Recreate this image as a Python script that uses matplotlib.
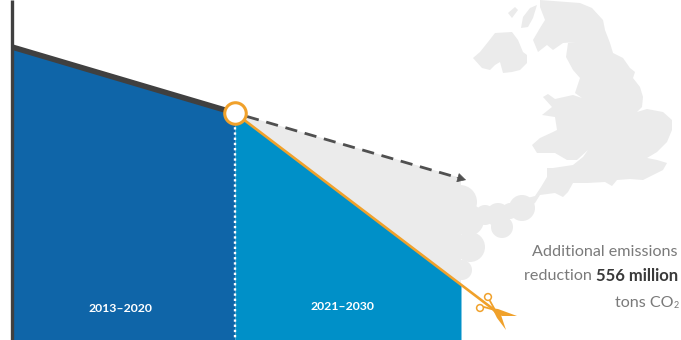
import matplotlib
matplotlib.use("Agg")
import matplotlib.pyplot as plt
from matplotlib.patches import Polygon, Circle

# reduction path, on the drawing's own x/y scale (y grows downwards)
path_x = [12, 235, 461]
path_y = [47, 113, 285]
trend_x = [235, 466]
trend_y = [113, 180]
periods = ["2013–2020", "2021–2030"]

# coastlines of Great Britain and Northern Ireland
britain = [
    (540, 0), (580, 3), (592, 8), (603, 20), (605, 30), (610, 43), (613, 53), (623, 58),
    (630, 68), (635, 72), (633, 78), (640, 87), (643, 97), (642, 107), (637, 112), (647, 109),
    (663, 112), (672, 120), (672, 130), (667, 142), (657, 152), (647, 158), (657, 160),
    (667, 163), (663, 170), (653, 175), (643, 180), (630, 179), (617, 180), (612, 186),
    (605, 182), (587, 183), (573, 183), (568, 192), (563, 197), (555, 193), (540, 195),
    (535, 203), (527, 208), (520, 200), (535, 196), (541, 187), (547, 177), (547, 168),
    (553, 168), (573, 165), (583, 157), (588, 150), (577, 160), (567, 160),
    (555, 153), (537, 153), (532, 145), (540, 138), (553, 132), (557, 130), (555, 117),
    (542, 115), (552, 107), (543, 97), (548, 94), (555, 99), (573, 95), (582, 98), (575, 93),
    (580, 78), (573, 70), (566, 57), (568, 43), (576, 42), (563, 43), (553, 50), (547, 45),
    (538, 52), (533, 40), (540, 28), (545, 20), (540, 7),
]
ireland = [
    (473, 58), (480, 52), (488, 42), (495, 33), (512, 32), (518, 40), (523, 52), (527, 55),
    (527, 63), (520, 70), (512, 72), (503, 73), (500, 62), (495, 65), (490, 70), (482, 68),
]
islet_a = [(508, 13), (515, 7), (518, 10), (512, 18)]
islet_b = [(521, 28), (523, 17), (530, 8), (537, 5), (533, 18), (528, 27)]
# rounded headland where the land runs into the chart
headland = [
    (460, 202, 17), (468, 220, 16), (485, 215, 10), (498, 215, 12), (502, 227, 11),
    (510, 211, 8), (522, 208, 13), (470, 247, 15), (462, 270, 10),
]

blade_a = [(490, 308), (498, 309), (517, 316), (502, 316), (495, 313)]
blade_b = [(493, 310), (500, 312), (506, 330), (497, 318)]

grey = "#ebebeb"
orange = "#f0a12b"
dark = "#404040"

plt.rcParams["font.family"] = ["Lato", "Open Sans", "DejaVu Sans"]

fig = plt.figure(figsize=(6.81, 3.4), dpi=100)
ax = fig.add_axes([0, 0, 1, 1])
ax.set_xlim(0, 681)
ax.set_ylim(340, 0)
ax.axis("off")

for shape in [britain, ireland, islet_a, islet_b]:
    ax.add_patch(Polygon(shape, closed=True, fc=grey, ec="none", zorder=1))
for cx, cy, r in headland:
    ax.add_patch(Circle((cx, cy), r, fc=grey, ec="none", zorder=1))

# saved emissions wedge between the trend and the cut
ax.fill([trend_x[0], path_x[2], path_x[2]], [trend_y[0], 178, path_y[2]], color=grey, lw=0, zorder=1)

ax.fill_between(path_x[:2], path_y[:2], 340, color="#0f65a8", lw=0, zorder=2)
ax.fill_between(path_x[1:], path_y[1:], 340, color="#0090c8", lw=0, zorder=2)

ax.plot([path_x[1]] * 2, [122, 340], color="white", lw=1.7, ls=(0, (1, 1.2)), zorder=3)
ax.plot([path_x[0]] * 2, [0, 340], color=dark, lw=2.4, solid_capstyle="butt", zorder=4)
ax.plot(path_x[:2], path_y[:2], color=dark, lw=4, solid_capstyle="butt", zorder=4)

# business as usual continuation, dashed shaft with a solid head
ax.plot([trend_x[0] + 12, trend_x[1] - 8], [trend_y[0] + 3.5, trend_y[1] - 2.3], color="#505050",
        lw=2, ls=(0, (4.4, 2.8)), dash_capstyle="butt", zorder=4)
ax.annotate("", xy=(trend_x[1], trend_y[1]), xytext=(trend_x[1] - 9, trend_y[1] - 2.6),
            arrowprops=dict(arrowstyle="-|>,head_length=0.55,head_width=0.3", color="#505050",
                            lw=0.5, shrinkA=0, shrinkB=0), zorder=4)

# cut line running on into the scissors
ax.plot([path_x[1], 493], [path_y[1], 309], color=orange, lw=1.9, solid_capstyle="butt", zorder=5)
ax.plot(path_x[1], path_y[1], "o", ms=15.5, mfc="white", mec=orange, mew=2.2, zorder=6)

for blade in [blade_a, blade_b]:
    ax.add_patch(Polygon(blade, closed=True, fc=orange, ec="none", zorder=6))
for cx, cy in [(488, 297), (480, 308)]:
    ax.add_patch(Circle((cx, cy), 3.4, fc="none", ec=orange, lw=1.1, zorder=6))
ax.plot([490, 495], [301, 310], color=orange, lw=1.3, zorder=6)
ax.plot([484, 495], [307, 310], color=orange, lw=1.3, zorder=6)

ax.text(120, 308, periods[0], color="white", fontsize=8.8, fontweight="bold", ha="center", va="center", zorder=7)
ax.text(342, 307, periods[1], color="white", fontsize=8.8, fontweight="bold", ha="center", va="center", zorder=7)

text_grey = "#7a7a7a"
ax.text(678, 252, "Additional emissions", color=text_grey, fontsize=11.6, ha="right", va="center")
bold = ax.text(678, 276, "556 million", color="#3a3a3a", fontsize=12, fontweight="bold",
               ha="right", va="center")
ax.annotate("reduction ", xy=(0, 0.5), xycoords=bold, color=text_grey, fontsize=11.6,
            ha="right", va="center")
two = ax.text(679, 305, "2", color=text_grey, fontsize=6.5, ha="right", va="center")
ax.annotate("tons CO", xy=(0, 0.68), xycoords=two, color=text_grey, fontsize=11.6,
            ha="right", va="center")

fig.savefig("out.png", dpi=100)
